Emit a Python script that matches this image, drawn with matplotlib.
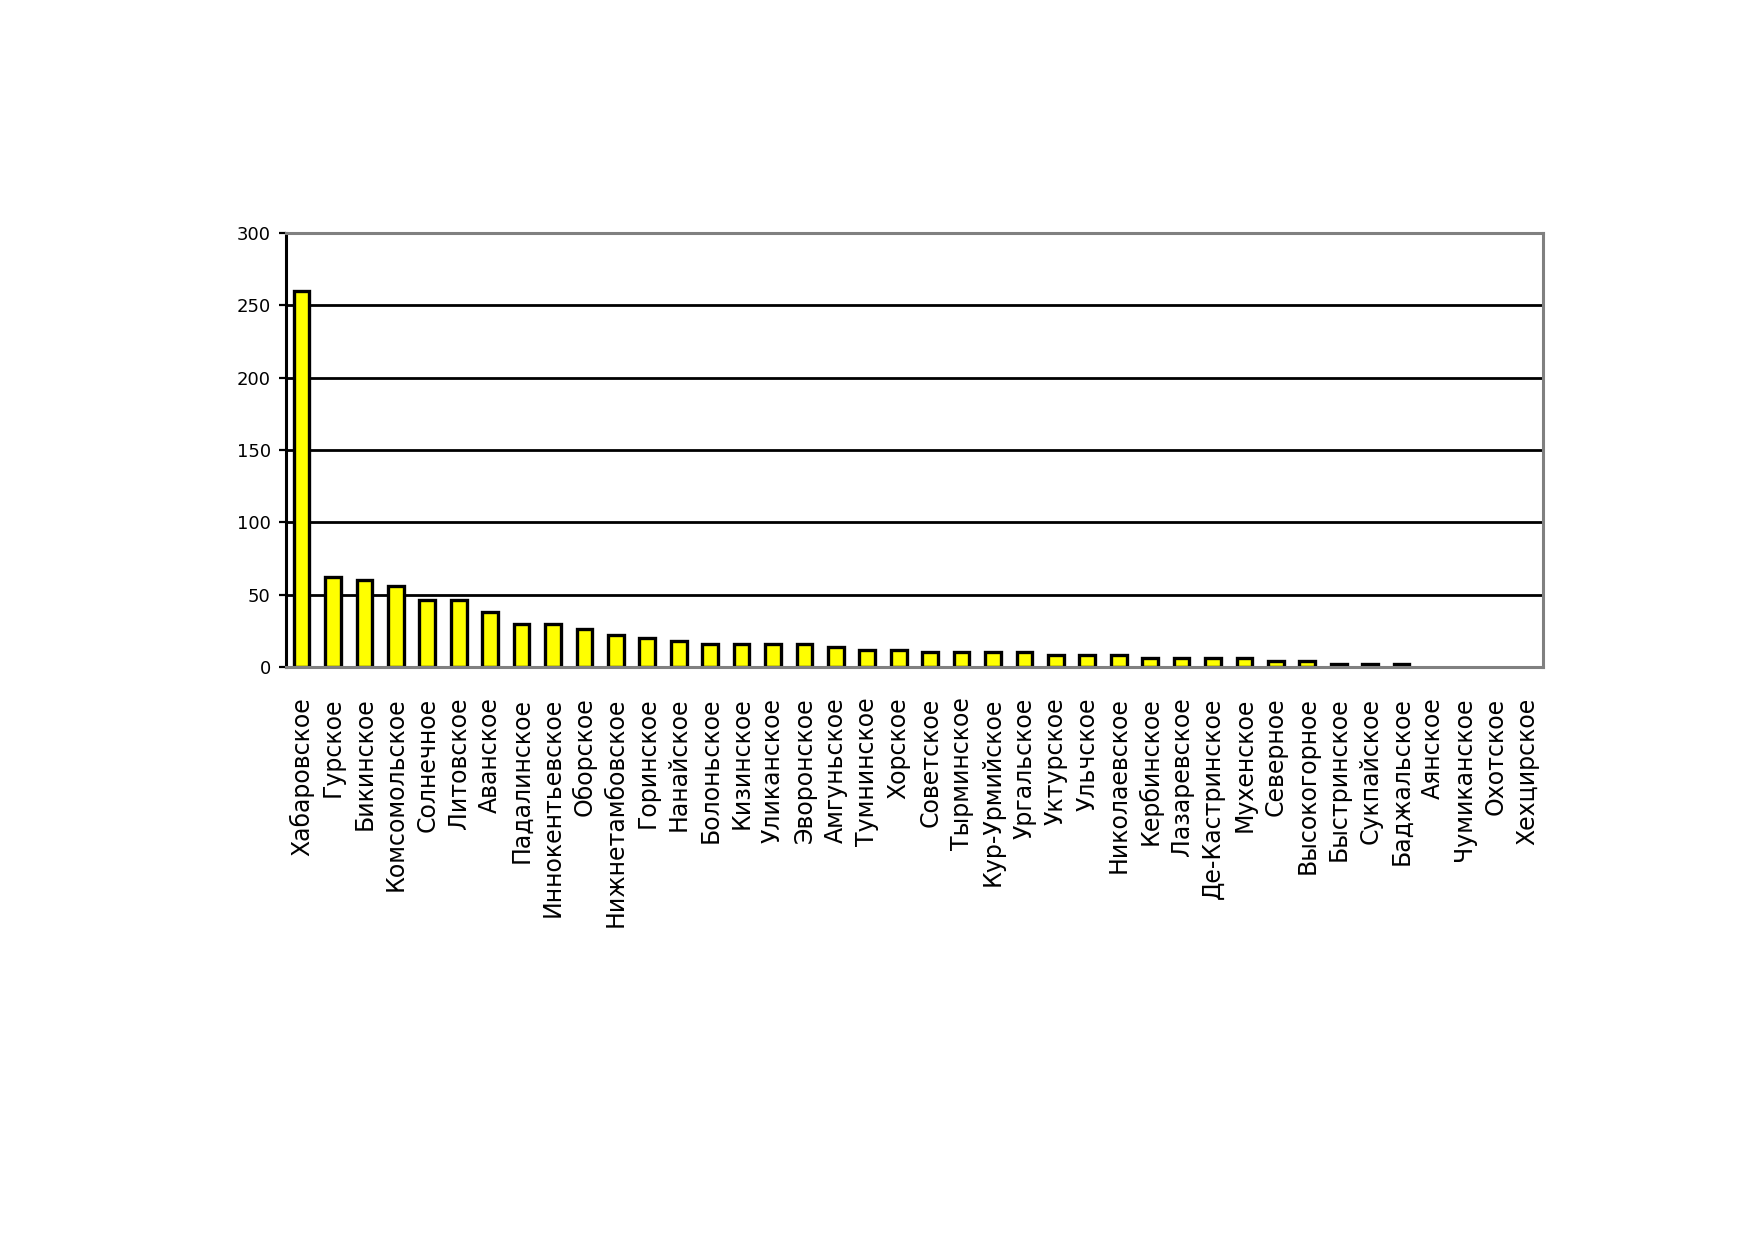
import numpy as np
import matplotlib
matplotlib.use('Agg')
import matplotlib.pyplot as plt

# лесничества и значения
names = ['Хабаровское', 'Гурское', 'Бикинское', 'Комсомольское', 'Солнечное',
         'Литовское', 'Аванское', 'Падалинское', 'Иннокентьевское', 'Оборское',
         'Нижнетамбовское', 'Горинское', 'Нанайское', 'Болоньское', 'Кизинское',
         'Уликанское', 'Эворонское', 'Амгуньское', 'Тумнинское', 'Хорское',
         'Советское', 'Тырминское', 'Кур-Урмийское', 'Ургальское', 'Уктурское',
         'Ульчское', 'Николаевское', 'Кербинское', 'Лазаревское', 'Де-Кастринское',
         'Мухенское', 'Северное', 'Высокогорное', 'Быстринское', 'Сукпайское',
         'Баджальское', 'Аянское', 'Чумиканское', 'Охотское', 'Хехцирское']
values = [260, 62, 60, 56, 46, 46, 38, 30, 30, 26,
          22, 20, 18, 16, 16, 16, 16, 14, 12, 12,
          10, 10, 10, 10, 8, 8, 8, 6, 6, 6,
          6, 4, 4, 2, 2, 2, 0, 0, 0, 0]
yticks = [0, 50, 100, 150, 200, 250, 300]

fig = plt.figure(figsize=(17.52, 12.39), dpi=100)
ax = fig.add_axes([0.1632, 0.4617, 0.7175, 0.3502])

x = np.arange(len(names))
# у нулевых столбиков контур не рисуем
lw = [2.4 if v > 0 else 0 for v in values]
ax.bar(x, values, width=0.5, color='#FFFF00', edgecolor='black',
       linewidth=lw, zorder=3)

ax.set_xlim(-0.5, len(names) - 0.5)
ax.set_ylim(0, 300)
ax.set_yticks(yticks)
ax.set_axisbelow(True)
ax.yaxis.grid(True, color='black', linewidth=2)

for side in ['top', 'right', 'bottom']:
    ax.spines[side].set_color('#808080')
    ax.spines[side].set_linewidth(2.2)
ax.spines['bottom'].set_zorder(4)
ax.spines['left'].set_color('black')
ax.spines['left'].set_linewidth(2.2)

ax.tick_params(axis='y', direction='out', length=5, width=1.6,
               labelsize=13, pad=6)
ax.set_xticks(x)
ax.set_xticklabels(names, rotation=90, fontsize=17)
ax.tick_params(axis='x', length=0, pad=22)

fig.savefig('out.png', dpi=100, facecolor='white')
